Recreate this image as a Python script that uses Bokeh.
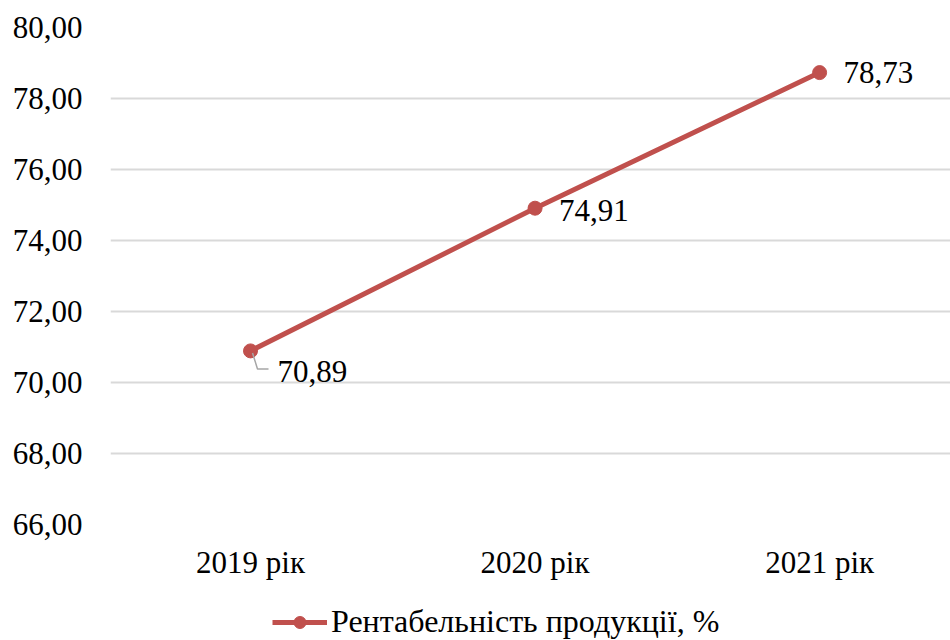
from bokeh.plotting import figure
from bokeh.layouts import column
from bokeh.models import FixedTicker, Legend, LegendItem, Range1d
from bokeh.core.properties import value
from bokeh.embed import file_html
from bokeh.resources import INLINE

categories = ["2019 рік", "2020 рік", "2021 рік"]
values = [70.89, 74.91, 78.73]
value_labels = ["70,89", "74,91", "78,73"]
y_ticks = [66, 68, 70, 72, 74, 76, 78, 80]
y_tick_labels = ["66,00", "68,00", "70,00", "72,00", "74,00", "76,00", "78,00", "80,00"]
series_name = "Рентабельність продукції, %"

FONT = "Liberation Serif"
RED = "#C0504D"
xs = list(range(len(categories)))

p = figure(width=950, height=590, output_backend="svg", toolbar_location=None,
           x_range=Range1d(-0.492, 2.46), y_range=Range1d(66, 80),
           min_border_left=110, min_border_right=0, min_border_top=27,
           min_border_bottom=66)
p.outline_line_color = None
p.xgrid.grid_line_color = None
p.ygrid.grid_line_color = "#d9d9d9"
p.ygrid.grid_line_width = 2

p.yaxis.ticker = FixedTicker(ticks=y_ticks)
p.yaxis.major_label_overrides = {t: l for t, l in zip(y_ticks, y_tick_labels)}
p.xaxis.ticker = FixedTicker(ticks=xs)
p.xaxis.major_label_overrides = {i: c for i, c in enumerate(categories)}
for ax in (p.xaxis, p.yaxis):
    ax.axis_line_color = None
    ax.major_tick_line_color = None
    ax.minor_tick_line_color = None
    ax.major_tick_out = 0
    ax.major_tick_in = 0
    ax.major_label_text_font = FONT
    ax.major_label_text_font_size = "31px"
    ax.major_label_text_color = "#000000"
p.yaxis.major_label_standoff = 28
p.xaxis.major_label_standoff = 20

ln = p.line(xs, values, line_color=RED, line_width=5)
sc = p.scatter(xs, values, size=14, fill_color=RED, line_color=RED)

# leader line for first label (pixel offsets converted to data units)
px_x = 1 / 284.5
px_y = 2 / 71.0
x0, y0 = xs[0], values[0]
p.line([x0 + 2 * px_x, x0 + 7 * px_x, x0 + 18 * px_x],
       [y0 - 2 * px_y, y0 - 18 * px_y, y0 - 18 * px_y],
       line_color="#a6a6a6", line_width=1.5)

offsets = [(27, 21), (24, 2), (24, 0)]
for (x, y, t), (dx, dy) in zip(zip(xs, values, value_labels), offsets):
    p.text([x], [y], text=[t], x_offset=dx, y_offset=dy,
           text_font=value(FONT), text_font_size="31px",
           text_color="#000000", text_align="left", text_baseline="middle")

# legend strip below the chart (its renderers' data lie outside its view)
q = figure(width=950, height=50, output_backend="svg", toolbar_location=None,
           x_range=Range1d(0, 1), y_range=Range1d(0, 1),
           min_border=0, min_border_left=110, min_border_right=0,
           min_border_top=0, min_border_bottom=0)
q.axis.visible = False
q.grid.visible = False
q.outline_line_color = None
lq = q.line(xs, values, line_color=RED, line_width=5)
sq = q.scatter(xs, values, size=14, fill_color=RED, line_color=RED)
legend = Legend(items=[LegendItem(label=series_name, renderers=[lq, sq])],
                location=(162, 0), orientation="horizontal",
                label_text_font=FONT, label_text_font_size="32px",
                label_text_color="#000000", glyph_width=55, glyph_height=30,
                padding=0, margin=0, spacing=0, label_standoff=4,
                border_line_color=None, background_fill_alpha=0)
q.add_layout(legend, "center")

layout = column(p, q, spacing=0)
open("out.html", "w").write(file_html(layout, INLINE))
